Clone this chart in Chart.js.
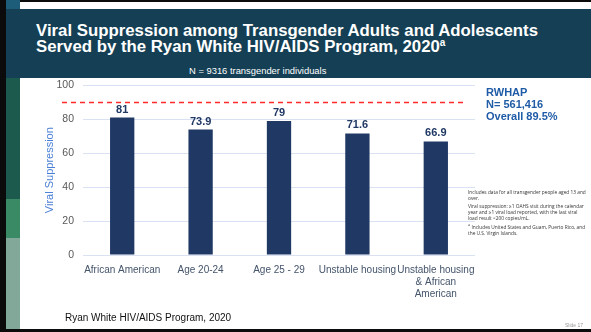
<!DOCTYPE html>
<html>
<head>
<meta charset="utf-8">
<script src="https://cdn.jsdelivr.net/npm/chart.js@4"></script>
<style>
  body { margin: 0; width: 591px; height: 332px; overflow: hidden; background: #fff; font-family: "Liberation Sans", Arial, sans-serif; position: relative; }
  .blk { position: absolute; }
  #title { position: absolute; left: 36px; top: 23px; color: #fff; font-weight: bold; font-size: 16.8px; line-height: 16px; white-space: nowrap; }
  #title sup { font-size: 10px; vertical-align: 6px; line-height: 0; }
  #sub { position: absolute; left: 189px; top: 65px; color: #fff; font-size: 9.4px; white-space: nowrap; }
  #rwhap { position: absolute; left: 486px; top: 86px; color: #1f5ba6; font-weight: bold; font-size: 11px; line-height: 12px; }
  #notes { position: absolute; left: 468px; top: 189px; width: 124px; color: #333; font-family: "Open Sans", sans-serif; font-size: 4.8px; line-height: 6px; white-space: nowrap; }
  #notes p { margin: 0 0 1.5px 0; }
  #footer { position: absolute; left: 65px; top: 312px; font-size: 10px; color: #111; }
  #slide { position: absolute; left: 565px; top: 322px; font-size: 5px; color: #999; }
  #wrap { position: absolute; left: 20px; top: 70px; width: 571px; height: 248px; }
</style>
</head>
<body>
<!-- slide frame -->
<div class="blk" style="left:0;top:0;width:6px;height:332px;background:#0b0b0b"></div>
<div class="blk" style="left:0;top:0;width:591px;height:2px;background:#0b0b0b"></div>
<div class="blk" style="left:0;top:329px;width:591px;height:3px;background:#0b0b0b"></div>
<div class="blk" style="left:6px;top:0;width:14px;height:9px;background:#1d5d7a"></div>
<div class="blk" style="left:6px;top:9px;width:585px;height:69px;background:#143f54"></div>
<div class="blk" style="left:6px;top:78px;width:14px;height:121px;background:#1d5a4e"></div>
<div class="blk" style="left:6px;top:199px;width:14px;height:39px;background:#3b8a66"></div>
<div class="blk" style="left:6px;top:238px;width:14px;height:91px;background:#81a898"></div>

<div id="title">Viral Suppression among Transgender Adults and Adolescents<br>Served by the Ryan White HIV/AIDS Program, 2020<sup>a</sup></div>
<div id="sub">N = 9316 transgender individuals</div>

<div id="wrap"><canvas id="chart" width="571" height="248"></canvas></div>

<div id="rwhap">RWHAP<br>N= 561,416<br>Overall 89.5%</div>
<div id="notes">
  <p>Includes data for all transgender people aged 13 and<br>over.</p>
  <p>Viral suppression: ≥1 OAHS visit during the calendar<br>year and ≥1 viral load reported, with the last viral<br>load result &lt;200 copies/mL.</p>
  <p><sup>a</sup> Includes United States and Guam, Puerto Rico, and<br>the U.S. Virgin Islands.</p>
</div>
<div id="footer">Ryan White HIV/AIDS Program, 2020</div>
<div id="slide">Slide 17</div>

<script>
// chart data
const categories = [
  "African American",
  "Age 20-24",
  "Age 25 - 29",
  "Unstable housing",
  ["Unstable housing", "& African", "American"]
];
const suppression = [81, 73.9, 79, 71.6, 66.9];
const overallTarget = 90;
const yTicks = [0, 20, 40, 60, 80, 100];

const barColor = '#1f3864';

// value labels on top of bars
const valueLabels = {
  id: 'valueLabels',
  afterDatasetsDraw(chart) {
    const ctx = chart.ctx;
    const meta = chart.getDatasetMeta(0);
    ctx.save();
    ctx.font = 'bold 11px "Liberation Sans", Arial, sans-serif';
    ctx.fillStyle = '#203864';
    ctx.textAlign = 'center';
    ctx.textBaseline = 'alphabetic';
    meta.data.forEach(function (bar, i) {
      ctx.fillText(String(suppression[i]), bar.x, bar.y - 5);
    });
    ctx.restore();
  }
};

// red dashed reference line (overall RWHAP)
const refLine = {
  id: 'refLine',
  afterDatasetsDraw(chart) {
    const ctx = chart.ctx;
    const y = Math.round(chart.scales.y.getPixelForValue(overallTarget)) + 0.5;
    ctx.save();
    ctx.strokeStyle = '#ff2a2a';
    ctx.lineWidth = 1.5;
    ctx.setLineDash([5, 4]);
    ctx.beginPath();
    ctx.moveTo(chart.chartArea.left - 21, y);
    ctx.lineTo(chart.chartArea.right - 12, y);
    ctx.stroke();
    ctx.restore();
  }
};

new Chart(document.getElementById('chart'), {
  type: 'bar',
  data: {
    labels: categories,
    datasets: [{
      data: suppression,
      backgroundColor: barColor,
      barPercentage: 0.31,
      categoryPercentage: 1
    }]
  },
  options: {
    responsive: false,
    animation: false,
    layout: { padding: { left: 0, right: 116, top: 0, bottom: 0 } },
    plugins: { legend: { display: false }, tooltip: { enabled: false } },
    scales: {
      y: {
        min: 0,
        max: 100,
        afterBuildTicks(scale) { scale.ticks = yTicks.map(v => ({ value: v })); },
        afterFit(scale) { scale.width = 63; },
        border: { display: false },
        grid: { color: '#d9e1f2', lineWidth: 1, drawTicks: false },
        ticks: { color: '#595959', font: { size: 10.5, family: '"Liberation Sans", Arial, sans-serif' }, padding: 9 },
        title: {
          display: true,
          text: 'Viral Suppression',
          color: '#4a7fd6',
          font: { size: 11, family: '"Liberation Sans", Arial, sans-serif' },
          padding: { top: 23, bottom: 0 }
        }
      },
      x: {
        afterFit(scale) { scale.height = 63; },
        border: { display: false },
        grid: { display: false },
        ticks: {
          color: '#44546a',
          font: { size: 10, family: '"Liberation Sans", Arial, sans-serif' },
          maxRotation: 0,
          autoSkip: false,
          padding: 1
        }
      }
    }
  },
  plugins: [refLine, valueLabels]
});
</script>
</body>
</html>
